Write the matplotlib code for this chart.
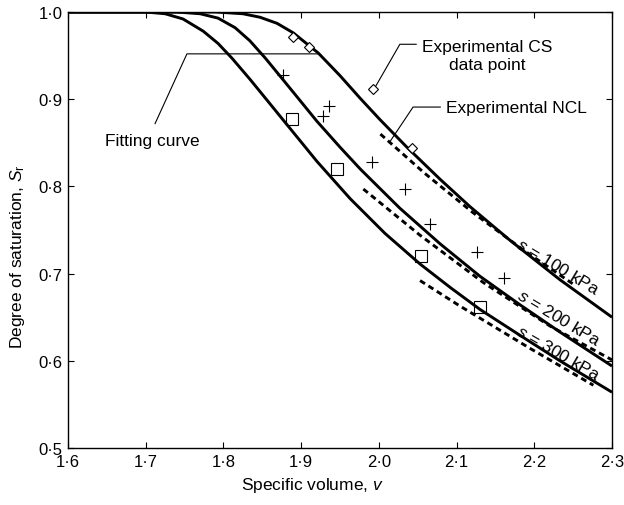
import numpy as np
import matplotlib
matplotlib.use("Agg")
import matplotlib.pyplot as plt
from matplotlib.ticker import FuncFormatter, MultipleLocator

plt.rcParams['font.family'] = 'Liberation Sans'
plt.rcParams['mathtext.fontset'] = 'custom'
plt.rcParams['mathtext.rm'] = 'Liberation Sans'
plt.rcParams['mathtext.it'] = 'Liberation Sans:italic'

# fitting curves (specific volume, degree of saturation)
v_fit_100 = [1.600, 1.790, 1.825, 1.847, 1.869, 1.890, 1.922, 1.950, 1.976, 2.001,
             2.036, 2.079, 2.117, 2.169, 2.233, 2.300]
sr_fit_100 = [1.000, 1.000, 0.998, 0.994, 0.987, 0.976, 0.953, 0.927, 0.901, 0.877,
              0.845, 0.808, 0.777, 0.738, 0.693, 0.650]

v_fit_200 = [1.600, 1.740, 1.770, 1.793, 1.815, 1.834, 1.854, 1.877, 1.899, 1.920,
             1.950, 1.976, 2.027, 2.079, 2.130, 2.182, 2.233, 2.300]
sr_fit_200 = [1.000, 1.000, 0.998, 0.993, 0.982, 0.967, 0.947, 0.922, 0.898, 0.875,
              0.845, 0.820, 0.775, 0.734, 0.697, 0.664, 0.633, 0.594]

v_fit_300 = [1.600, 1.700, 1.725, 1.748, 1.774, 1.793, 1.811, 1.834, 1.856, 1.877,
             1.899, 1.920, 1.963, 2.008, 2.053, 2.092, 2.130, 2.182, 2.233, 2.300]
sr_fit_300 = [1.000, 1.000, 0.998, 0.992, 0.978, 0.964, 0.947, 0.923, 0.899, 0.876,
              0.852, 0.829, 0.786, 0.746, 0.711, 0.684, 0.659, 0.629, 0.600, 0.564]

# experimental NCLs
v_ncl_100 = [2.002, 2.059, 2.121, 2.186, 2.250]
sr_ncl_100 = [0.860, 0.815, 0.770, 0.727, 0.688]
v_ncl_200 = [1.980, 2.053, 2.134, 2.220, 2.300]
sr_ncl_200 = [0.797, 0.744, 0.690, 0.640, 0.601]
v_ncl_300 = [2.053, 2.104, 2.195, 2.276]
sr_ncl_300 = [0.692, 0.663, 0.614, 0.572]

# experimental CS data points
v_pts_100 = [1.890, 1.910, 1.993, 2.043]
sr_pts_100 = [0.971, 0.960, 0.912, 0.844]
v_pts_200 = [1.877, 1.928, 1.936, 1.991, 2.034, 2.066, 2.126, 2.161]
sr_pts_200 = [0.928, 0.881, 0.892, 0.828, 0.797, 0.757, 0.725, 0.695]
v_pts_300 = [1.888, 1.946, 2.054, 2.130]
sr_pts_300 = [0.877, 0.820, 0.720, 0.662]

curve_labels = ['$\\it{s}$ = 100 kPa', '$\\it{s}$ = 200 kPa', '$\\it{s}$ = 300 kPa']

fig = plt.figure(figsize=(6.24, 5.06), dpi=100)
ax = fig.add_axes([0.109, 0.1126, 0.8718, 0.8617])

for v, sr in [(v_fit_100, sr_fit_100), (v_fit_200, sr_fit_200), (v_fit_300, sr_fit_300)]:
    ax.plot(v, sr, color='black', lw=2.1, solid_capstyle='butt', solid_joinstyle='round')

for v, sr in [(v_ncl_100, sr_ncl_100), (v_ncl_200, sr_ncl_200), (v_ncl_300, sr_ncl_300)]:
    ax.plot(v, sr, color='black', lw=2.1, ls=(0, (2.0, 1.4)))

ax.plot(v_pts_100, sr_pts_100, 'D', ms=5, mfc='white', mec='black', mew=0.8)
ax.plot(v_pts_200, sr_pts_200, '+', ms=9, color='black', mew=0.8)
ax.plot(v_pts_300, sr_pts_300, 's', ms=8, mfc='none', mec='black', mew=0.8)

# curve labels
ax.text(2.231, 0.708, curve_labels[0], rotation=-31, rotation_mode='anchor',
        ha='center', va='center', fontsize=12.5)
ax.text(2.232, 0.650, curve_labels[1], rotation=-31, rotation_mode='anchor',
        ha='center', va='center', fontsize=12.5)
ax.text(2.231, 0.610, curve_labels[2], rotation=-30, rotation_mode='anchor',
        ha='center', va='center', fontsize=12.5)

# annotations with leader lines
ax.plot([1.712, 1.753, 1.922], [0.872, 0.952, 0.952], color='black', lw=0.8)
ax.text(1.648, 0.853, 'Fitting curve', ha='left', va='center', fontsize=12.5)

ax.plot([1.996, 2.027, 2.048], [0.915, 0.963, 0.963], color='black', lw=0.8)
ax.text(2.140, 0.950, 'Experimental CS\ndata point', ha='center', va='center',
        multialignment='center', linespacing=1.3, fontsize=12.5)

ax.plot([2.014, 2.044, 2.079], [0.851, 0.891, 0.891], color='black', lw=0.8)
ax.text(2.0865, 0.891, 'Experimental NCL', ha='left', va='center', fontsize=12.5)

ax.set_xlim(1.6, 2.3)
ax.set_ylim(0.5, 1.0)
ax.xaxis.set_major_locator(MultipleLocator(0.1))
ax.yaxis.set_major_locator(MultipleLocator(0.1))
fmt = FuncFormatter(lambda x, p: f"{x:.1f}".replace('.', '\u00b7'))
ax.xaxis.set_major_formatter(fmt)
ax.yaxis.set_major_formatter(fmt)
ax.tick_params(direction='in', top=True, right=True, length=4, width=0.8,
               labelsize=12, pad=4)
for sp in ax.spines.values():
    sp.set_linewidth(1.0)

ax.set_xlabel('Specific volume, $\\it{v}$', fontsize=12.5)
ax.set_ylabel('Degree of saturation, $\\it{S}_\\mathrm{r}$', fontsize=12.5)
ax.xaxis.set_label_coords(0.449, -0.062)
ax.yaxis.set_label_coords(-0.075, 0.44)

fig.savefig('out.png', dpi=100)
